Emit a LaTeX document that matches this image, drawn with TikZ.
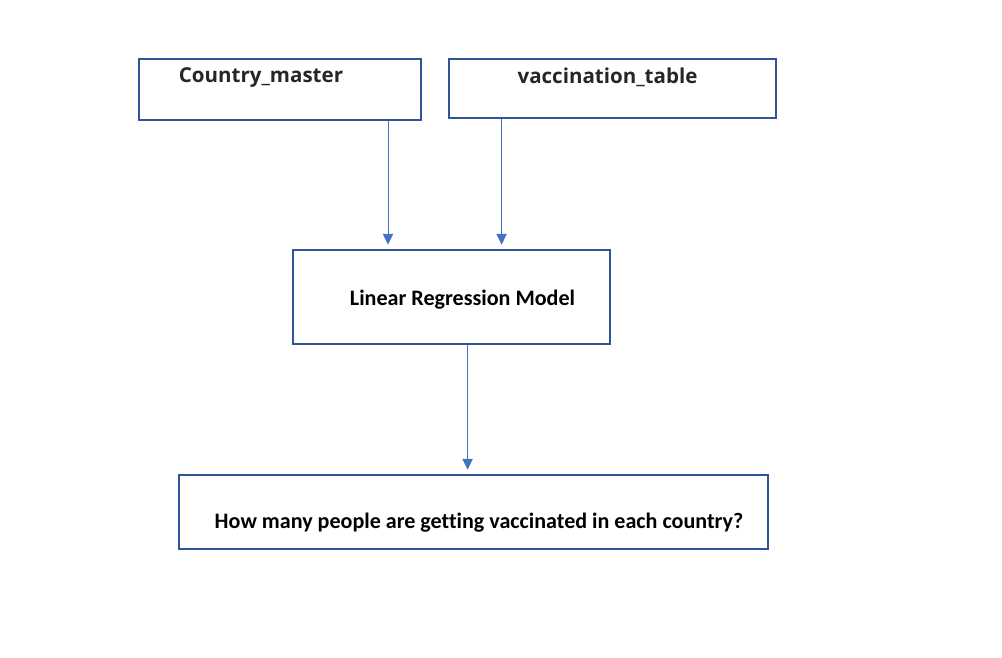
\documentclass[tikz,border=0pt]{standalone}
\usepackage{fontspec}
\setmainfont{Carlito}[Ligatures=NoCommon]
\newfontfamily\headfont{Open Sans}
\usetikzlibrary{arrows.meta}

\definecolor{boxblue}{HTML}{2F5597}
\definecolor{arrowblue}{HTML}{4472C4}
\definecolor{headgrey}{HTML}{262626}

\tikzset{
    tablebox/.style={draw=boxblue, line width=1.4pt, minimum width=#1, inner sep=0pt},
    headlabel/.style={inner sep=0pt, text=headgrey, font=\headfont\bfseries\fontsize{14.6}{17}\selectfont},
    bodylabel/.style={inner sep=0pt, font=\bfseries\fontsize{15.7}{18}\selectfont},
    feed/.style={draw=arrowblue, line width=0.7pt, shorten >=0.11cm,
        -{Triangle[length=0.27cm,width=0.26cm]}}
}

\begin{document}
\begin{tikzpicture}
        \useasboundingbox (0,0) rectangle (25.05,16.45);
        % tables
        \node [tablebox=7.05cm, minimum height=1.525cm] (country) at (7.0,14.2125) {};
        \node [tablebox=8.175cm, minimum height=1.475cm] (vaccine) at (15.3125,14.2375) {};
        \node [headlabel] (countrytext) at (6.525,14.52) {Country\_master};
        \node [headlabel] (vaccinetext) at (15.1875,14.52) {vaccination\_table};
        % model
        \node [tablebox=7.925cm, minimum height=2.35cm] (model) at (11.2875,9.025) {};
        \node [bodylabel] (modeltext) at (11.5625,8.95) {Linear Regression Model};
        % question
        \node [tablebox=14.725cm, minimum height=1.85cm] (question) at (11.8375,3.65) {};
        \node [bodylabel] (questiontext) at (11.975,3.375) {How many people are getting vaccinated in each country?};
        % arrows
        \draw [feed] (country.south -| 9.7,0) -- (model.north -| 9.7,0);
        \draw [feed] (vaccine.south -| 12.54,0) -- (model.north -| 12.54,0);
        \draw [feed] (model.south -| 11.69,0) -- (question.north -| 11.69,0);
    \end{tikzpicture}
\end{document}
